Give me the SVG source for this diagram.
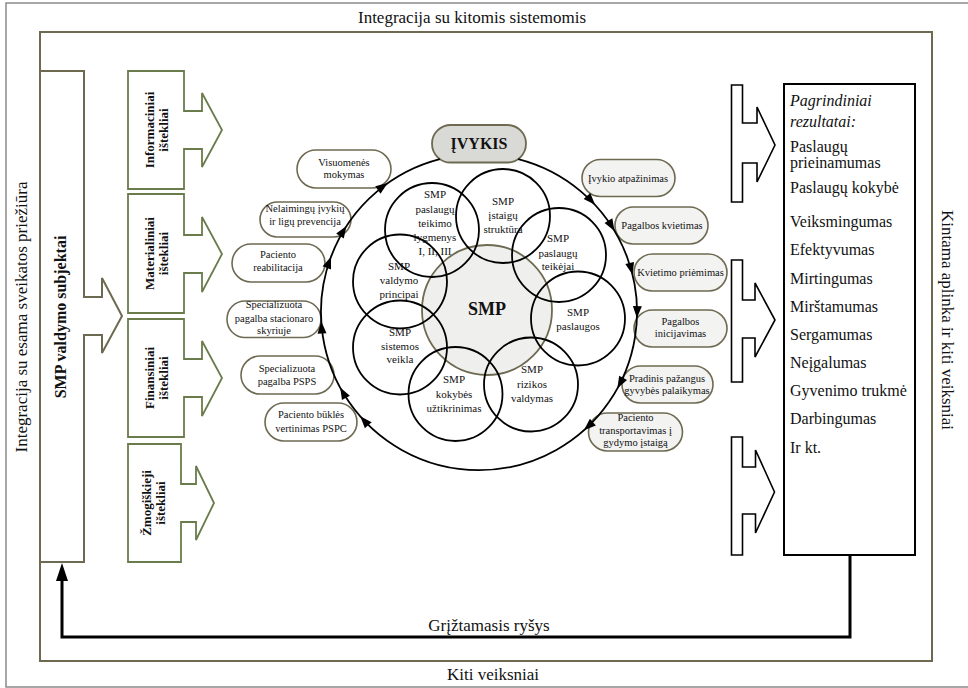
<svg xmlns="http://www.w3.org/2000/svg" width="968" height="688" viewBox="0 0 968 688">
  <style>
    text { font-family: "Liberation Serif", "Times New Roman", serif; fill: #111; }
    .frameT { font-size: 17px; text-anchor: middle; }
    .res { fill: #fff; stroke: #6a7c4c; stroke-width: 1.8; }
    .resT { font-size: 13px; font-weight: bold; text-anchor: middle; }
    .olive { fill: #fff; stroke: #6e6a52; stroke-width: 2; }
    .pill { fill: #fff; stroke: #6e6a52; stroke-width: 1.6; }
    .pillg { fill: #f3f3f1; stroke: #6e6a52; stroke-width: 1.6; }
    .pt { font-size: 10.5px; text-anchor: middle; }
    .ring { fill: none; stroke: #000; stroke-width: 1.8; }
    .ct { font-size: 11px; text-anchor: middle; }
    .out { fill: #fff; stroke: #000; stroke-width: 1.6; }
    .rt { font-size: 16px; }
    .fb { fill: none; stroke: #000; stroke-width: 3; }
  </style>
  <defs>
    <path id="ah" d="M0,0 L-12,-4.5 L-12,4.5 Z" fill="#000"/>
  </defs>

  <rect width="968" height="688" fill="#fff"/>

  <!-- outer frame and its labels -->
  <g id="outer-frame">
    <path d="M970,3 H6 V687 H970" fill="none" stroke="#8a8a8a" stroke-width="1.5"/>
    <text class="frameT" x="472" y="23">Integracija su kitomis sistemomis</text>
    <text class="frameT" x="493" y="680">Kiti veiksniai</text>
    <text class="frameT" transform="translate(27,317) rotate(-90)">Integracija su esama sveikatos priežiūra</text>
    <text class="frameT" transform="translate(942,320) rotate(90)">Kintama aplinka ir kiti veiksniai</text>
  </g>

  <!-- inner frame -->
  <g id="inner-frame">
    <rect x="40" y="32" width="892" height="629" fill="none" stroke="#6e6a52" stroke-width="2"/>
  </g>

  <!-- management subjects -->
  <g id="smp-valdymo-subjektai">
    <polygon class="olive" points="40,71 84,71 84,297 102,297 102,278 122,316 102,353 102,335 84,335 84,562 40,562"/>
    <text transform="translate(66,317) rotate(-90)" text-anchor="middle" font-size="16" font-weight="bold">SMP valdymo subjektai</text>
  </g>

  <!-- resources -->
  <g id="informaciniai">
    <polygon class="res" points="128,71 184,71 184,111 202,111 202,93 222,130 202,167 202,149 184,149 184,189 128,189"/>
    <g transform="translate(156,130) rotate(-90)">
      <text class="resT" y="-2">Informaciniai</text>
      <text class="resT" y="12">ištekliai</text>
    </g>
  </g>
  <g id="materialiniai">
    <polygon class="res" points="128,194 184,194 184,235 202,235 202,217 222,254 202,292 202,273 184,273 184,313 128,313"/>
    <g transform="translate(156,253.5) rotate(-90)">
      <text class="resT" y="-2">Materialiniai</text>
      <text class="resT" y="12">ištekliai</text>
    </g>
  </g>
  <g id="finansiniai">
    <polygon class="res" points="128,319 184,319 184,359 202,359 202,341 222,378 202,416 202,397 184,397 184,437 128,437"/>
    <g transform="translate(156,378) rotate(-90)">
      <text class="resT" y="-2">Finansiniai</text>
      <text class="resT" y="12">ištekliai</text>
    </g>
  </g>
  <g id="zmogiskieji">
    <polygon class="res" points="128,444 181,444 181,484 196,484 196,466 214,503 196,540 196,522 181,522 181,562 128,562"/>
    <g transform="translate(154.5,503) rotate(-90)">
      <text class="resT" y="-3.5">Žmogiškieji</text>
      <text class="resT" y="10.5">ištekliai</text>
    </g>
  </g>

  <!-- core: SMP and its components -->
  <g id="smp-core">
    <circle cx="487" cy="310" r="65" fill="#efefed" stroke="#6e6a52" stroke-width="1.8"/>
    <text x="487" y="315" text-anchor="middle" font-size="18" font-weight="bold">SMP</text>
  </g>
  <g id="components" fill="none" stroke="#000" stroke-width="1.8">
    <circle id="c-lygmenys" cx="432" cy="230" r="47"/>
    <circle id="c-struktura" cx="503" cy="216" r="47"/>
    <circle id="c-teikejai" cx="559" cy="255" r="47"/>
    <circle id="c-paslaugos" cx="578" cy="318.5" r="47"/>
    <circle id="c-rizikos" cx="531" cy="384.5" r="47"/>
    <circle id="c-kokybes" cx="455.5" cy="394" r="47"/>
    <circle id="c-sistemos" cx="400" cy="347.5" r="47"/>
    <circle id="c-principai" cx="400" cy="281.5" r="47"/>
  </g>
  <g id="component-labels">
    <text class="ct" x="435" y="198">SMP</text>
    <text class="ct" x="435" y="212.5">paslaugų</text>
    <text class="ct" x="435" y="226.5">teikimo</text>
    <text class="ct" x="435" y="241">lygmenys</text>
    <text class="ct" x="435" y="255">I, II, III</text>

    <text class="ct" x="503" y="205">SMP</text>
    <text class="ct" x="503" y="219">įstaigų</text>
    <text class="ct" x="503" y="233">struktūra</text>

    <text class="ct" x="558" y="242">SMP</text>
    <text class="ct" x="558" y="256.5">paslaugų</text>
    <text class="ct" x="558" y="270">teikėjai</text>

    <text class="ct" x="578" y="316">SMP</text>
    <text class="ct" x="578" y="330">paslaugos</text>

    <text class="ct" x="532" y="373">SMP</text>
    <text class="ct" x="532" y="388">rizikos</text>
    <text class="ct" x="532" y="402">valdymas</text>

    <text class="ct" x="454" y="383">SMP</text>
    <text class="ct" x="454" y="398">kokybės</text>
    <text class="ct" x="454" y="412">užtikrinimas</text>

    <text class="ct" x="400" y="336">SMP</text>
    <text class="ct" x="400" y="350">sistemos</text>
    <text class="ct" x="400" y="363">veikla</text>

    <text class="ct" x="399" y="270">SMP</text>
    <text class="ct" x="399" y="284">valdymo</text>
    <text class="ct" x="399" y="298">principai</text>
  </g>

  <!-- event -->
  <g id="ivykis">
    <rect x="432" y="125" width="94" height="37.5" rx="18.7" fill="#d9d9d5" stroke="#6e6a52" stroke-width="1.8"/>
    <text x="479" y="149" text-anchor="middle" font-size="16" font-weight="bold">ĮVYKIS</text>
  </g>

  <!-- stages, left side -->
  <g id="visuomenes-mokymas">
    <rect class="pill" x="297" y="150" width="94" height="38" rx="19"/>
    <text class="pt" x="344" y="166">Visuomenės</text>
    <text class="pt" x="344" y="178">mokymas</text>
  </g>
  <g id="prevencija">
    <rect class="pill" x="260" y="202" width="91" height="35" rx="17.5"/>
    <text class="pt" x="305" y="212">Nelaimingų įvykių</text>
    <text class="pt" x="305" y="225">ir ligų prevencija</text>
  </g>
  <g id="reabilitacija">
    <rect class="pill" x="232" y="244" width="93" height="38" rx="19"/>
    <text class="pt" x="278" y="258">Paciento</text>
    <text class="pt" x="278" y="271">reabilitacija</text>
  </g>
  <g id="stacionaras">
    <rect class="pill" x="227" y="301" width="94" height="36.5" rx="18"/>
    <text class="pt" x="274" y="308">Specializuota</text>
    <text class="pt" x="274" y="321.5">pagalba stacionaro</text>
    <text class="pt" x="274" y="334">skyriuje</text>
  </g>
  <g id="psps">
    <rect class="pill" x="241" y="356" width="93" height="38" rx="19"/>
    <text class="pt" x="287" y="371.5">Specializuota</text>
    <text class="pt" x="287" y="385">pagalba PSPS</text>
  </g>
  <g id="pspc">
    <rect class="pill" x="265" y="403" width="92" height="38" rx="19"/>
    <text class="pt" x="311" y="418">Paciento būklės</text>
    <text class="pt" x="311" y="431.5">vertinimas PSPC</text>
  </g>

  <!-- stages, right side -->
  <g id="atpazinimas">
    <rect class="pillg" x="582" y="159.5" width="93" height="37" rx="18.5"/>
    <text class="pt" x="628" y="181.5">Įvykio atpažinimas</text>
  </g>
  <g id="kvietimas">
    <rect class="pillg" x="615" y="207" width="93" height="37" rx="18.5"/>
    <text class="pt" x="662" y="228.5">Pagalbos kvietimas</text>
  </g>
  <g id="priemimas">
    <rect class="pillg" x="634" y="254" width="93" height="37" rx="18.5"/>
    <text class="pt" x="680.5" y="276">Kvietimo priėmimas</text>
  </g>
  <g id="inicijavimas">
    <rect class="pillg" x="634" y="310" width="93" height="37" rx="18.5"/>
    <text class="pt" x="680.5" y="325">Pagalbos</text>
    <text class="pt" x="680.5" y="337">inicijavimas</text>
  </g>
  <g id="palaikymas">
    <rect class="pillg" x="622" y="366" width="91" height="37" rx="18.5"/>
    <text class="pt" x="667" y="381.5">Pradinis pažangus</text>
    <text class="pt" x="667" y="393.5">gyvybės palaikymas</text>
  </g>
  <g id="transportavimas">
    <rect class="pillg" x="588.5" y="413" width="94" height="38" rx="19"/>
    <text class="pt" x="635.5" y="421">Paciento</text>
    <text class="pt" x="635.5" y="433.5">transportavimas į</text>
    <text class="pt" x="635.5" y="445.5">gydymo įstaigą</text>
  </g>

  <!-- outputs -->
  <g id="output-arrows">
    <polygon class="out" points="731.5,85 742.5,85 742.5,123 757,123 757,107 775,145 757,182 757,163 742.5,163 742.5,202 731.5,202"/>
    <polygon class="out" points="731.5,260 742.5,260 742.5,300 755,300 755,283 775,320 755,357 755,338 742.5,338 742.5,382 731.5,382"/>
    <polygon class="out" points="731.5,437 742.5,437 742.5,467 755.5,467 755.5,450 774.5,492 755.5,533 755.5,514 742.5,514 742.5,555 731.5,555"/>
  </g>
  <g id="rezultatai">
    <rect x="784" y="84" width="131" height="471" fill="#fff" stroke="#000" stroke-width="2"/>
    <text class="rt" x="790" y="106" font-style="italic">Pagrindiniai</text>
    <text class="rt" x="790" y="126.5" font-style="italic">rezultatai:</text>
    <text class="rt" x="790" y="151.5">Paslaugų</text>
    <text class="rt" x="790" y="168">prieinamumas</text>
    <text class="rt" x="790" y="192.5">Paslaugų kokybė</text>
    <text class="rt" x="790" y="227">Veiksmingumas</text>
    <text class="rt" x="790" y="255">Efektyvumas</text>
    <text class="rt" x="790" y="283.5">Mirtingumas</text>
    <text class="rt" x="790" y="311.5">Mirštamumas</text>
    <text class="rt" x="790" y="340">Sergamumas</text>
    <text class="rt" x="790" y="367.5">Neįgalumas</text>
    <text class="rt" x="790" y="396">Gyvenimo trukmė</text>
    <text class="rt" x="790" y="424">Darbingumas</text>
    <text class="rt" x="790" y="453">Ir kt.</text>
  </g>

  <!-- connectors -->
  <g id="connectors">
    <!-- care cycle, running clockwise from the event -->
    <path class="ring" d="M518.2,159.1 A158,158 0 1 1 439.8,159.1"/>
    <use href="#ah" transform="translate(595.1,204.8) rotate(47.3)"/>
    <use href="#ah" transform="translate(614.6,230.9) rotate(59.1)"/>
    <use href="#ah" transform="translate(632.5,274.6) rotate(76.3)"/>
    <use href="#ah" transform="translate(636.9,318.1) rotate(92.2)"/>
    <use href="#ah" transform="translate(617.3,388.4) rotate(118.9)"/>
    <use href="#ah" transform="translate(583.9,430.2) rotate(138.4)"/>
    <use href="#ah" transform="translate(360.3,416.3) rotate(228.7)"/>
    <use href="#ah" transform="translate(340.2,387.4) rotate(241.5)"/>
    <use href="#ah" transform="translate(321.3,321.6) rotate(266.5)"/>
    <use href="#ah" transform="translate(331,256.7) rotate(-69.5)"/>
    <use href="#ah" transform="translate(346.5,225.9) rotate(-57)"/>
    <use href="#ah" transform="translate(387.7,183.1) rotate(-35.3)"/>

    <!-- feedback loop -->
    <path class="fb" d="M850,555 V637 H62 V578"/>
    <path d="M62,563 L56,581 L68,581 Z" fill="#000"/>
    <text class="frameT" x="489" y="631">Grįžtamasis ryšys</text>
  </g>
</svg>
